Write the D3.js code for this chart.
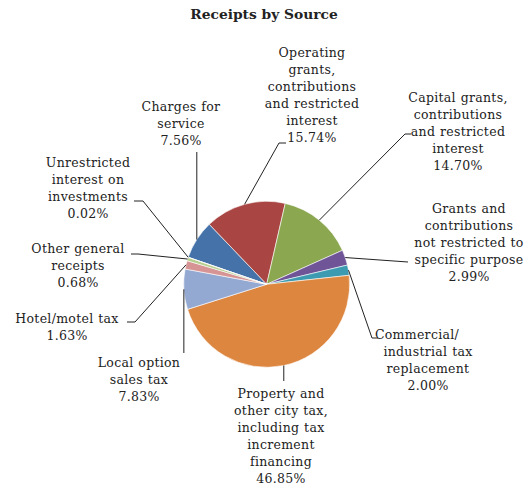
<!DOCTYPE html>
<html>
<head>
<meta charset="utf-8">
<script src="https://cdn.jsdelivr.net/npm/d3@7"></script>
<style>
  body { margin: 0; background: #fff; }
  text { font-family: "DejaVu Serif", serif; fill: #222; }
</style>
</head>
<body>
<svg id="chart" width="529" height="488"></svg>
<script>
// data, in drawing order (clockwise from the charges for service slice)
const categories = [
  "Charges for service",
  "Operating grants, contributions and restricted interest",
  "Capital grants, contributions and restricted interest",
  "Grants and contributions not restricted to specific purpose",
  "Commercial/ industrial tax replacement",
  "Property and other city tax, including tax increment financing",
  "Local option sales tax",
  "Hotel/motel tax",
  "Other general receipts",
  "Unrestricted interest on investments"
];
const shares = [7.56, 15.74, 14.70, 2.99, 2.00, 46.85, 7.83, 1.63, 0.68, 0.02];
const labelLines = [
  ["Charges for", "service"],
  ["Operating", "grants,", "contributions", "and restricted", "interest"],
  ["Capital grants,", "contributions", "and restricted", "interest"],
  ["Grants and", "contributions", "not restricted to", "specific purpose"],
  ["Commercial/", "industrial tax", "replacement"],
  ["Property and", "other city tax,", "including tax", "increment", "financing"],
  ["Local option", "sales tax"],
  ["Hotel/motel tax"],
  ["Other general", "receipts"],
  ["Unrestricted", "interest on", "investments"]
];
const colors = ["#4472a9", "#a94643", "#8ba74f", "#6f5597", "#3c9bb1",
                "#dd863f", "#94a9d2", "#d69594", "#b6ce8e", "#a897be"];

// label layout: centre x, first baseline, leader path points (label side first)
const layout = [
  {x: 181, y: 111, lead: [[null, 152]]},
  {x: 312, y: 57,  lead: [[286, 143], [279, 143]]},
  {x: 458, y: 102, lead: [[411, 134], [405, 134]]},
  {x: 469, y: 213, lead: [[408, 262]]},
  {x: 428, y: 339, dx0: -11, lead: [[378, 338], [372, 338]]},
  {x: 281, y: 398, lead: [[null, 381]]},
  {x: 139, y: 367, lead: [[null, 353]]},
  {x: 67,  y: 323, lead: [[127, 322], [135, 322]]},
  {x: 78,  y: 253, lead: [[131, 254], [138, 254]]},
  {x: 88,  y: 167, lead: [[134, 201], [143, 201]]}
];

const svg = d3.select('#chart');
const cx = 266.7, cy = 284.3, r = 83;
const lineH = 17;

svg.append('text')
   .attr('x', 264).attr('y', 19)
   .attr('text-anchor', 'middle')
   .style('font-weight', 'bold')
   .style('font-size', '13.8px')
   .text('Receipts by Source');

const start = -70.98 * Math.PI / 180;
const pie = d3.pie().sort(null)
              .startAngle(start)
              .endAngle(start + 2 * Math.PI);
const arcs = pie(shares);
const arc = d3.arc().innerRadius(0).outerRadius(r);

const g = svg.append('g').attr('transform', `translate(${cx},${cy})`);
g.selectAll('path')
 .data(arcs)
 .join('path')
 .attr('d', arc)
 .attr('fill', (d, i) => colors[i])
 .attr('stroke', '#fff')
 .attr('stroke-width', 0.6);

// leader lines
const edge = d3.arc().innerRadius(r).outerRadius(r);
arcs.forEach((d, i) => {
  const [ex, ey] = edge.centroid(d);
  const px = cx + ex, py = cy + ey;
  const pts = layout[i].lead.map(p => [p[0] === null ? px : p[0], p[1]]);
  pts.push([px, py]);
  svg.append('path')
     .attr('d', d3.line()(pts))
     .attr('fill', 'none')
     .attr('stroke', '#222')
     .attr('stroke-width', 1);
});

// labels
arcs.forEach((d, i) => {
  const L = layout[i];
  const t = svg.append('text')
               .attr('text-anchor', 'middle')
               .style('font-size', '12.5px')
               .style('letter-spacing', '0.3px')
               .style('word-spacing', '0.5px');
  const lines = labelLines[i].concat([shares[i].toFixed(2) + '%']);
  lines.forEach((s, k) => {
    t.append('tspan')
     .attr('x', L.x + (k === 0 && L.dx0 ? L.dx0 : 0))
     .attr('y', L.y + k * lineH)
     .text(s);
  });
});
</script>
</body>
</html>
